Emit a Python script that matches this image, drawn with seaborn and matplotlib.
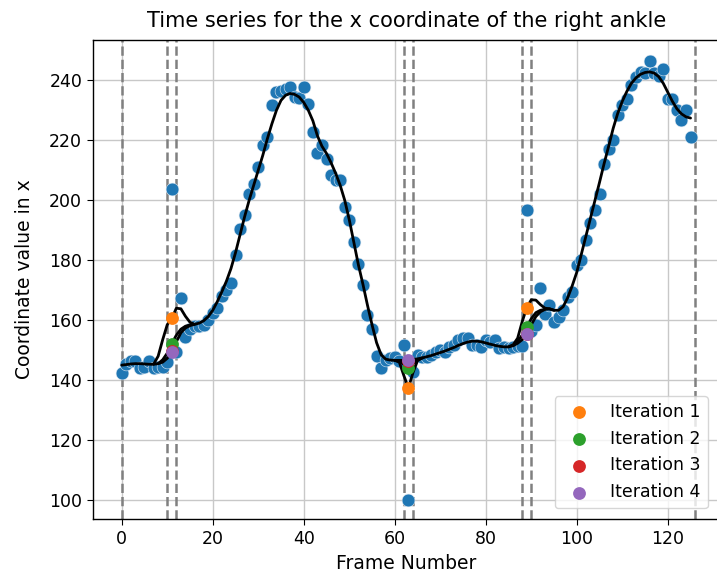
import numpy as np
import pandas as pd
import matplotlib
matplotlib.use("Agg")
import matplotlib.pyplot as plt
import seaborn as sns

# ---------------- data ----------------
frames = list(range(126))
coord_x = [
    142.4, 145.5, 146.5, 146.5, 144.0, 144.5, 146.5, 144.0, 144.5, 144.5,  # 0-9
    146.0, 203.7, 149.5, 167.3, 154.5, 157.0, 158.0, 158.0, 158.5, 160.0,  # 10-19
    162.5, 164.0, 168.0, 170.0, 172.5, 181.7, 190.5, 195.0, 202.0, 205.5,  # 20-29
    211.0, 218.3, 221.0, 231.7, 236.0, 236.5, 237.0, 237.8, 234.5, 234.0,  # 30-39
    237.8, 232.2, 222.8, 215.6, 218.3, 213.9, 208.3, 206.7, 206.7, 197.8,  # 40-49
    193.3, 186.1, 178.9, 171.7, 161.7, 157.2, 148.0, 143.9, 146.7, 147.5,  # 50-59
    147.8, 146.5, 151.7, 100.0, 142.8, 148.3, 147.8, 147.8, 148.3, 149.4,  # 60-69
    150.0, 149.4, 151.1, 151.7, 153.3, 153.9, 153.9, 151.7, 151.7, 151.1,  # 70-79
    153.3, 152.8, 153.3, 150.6, 151.1, 150.6, 151.1, 151.3, 151.5, 196.7,  # 80-89
    156.5, 158.5, 170.6, 162.2, 165.0, 159.4, 161.1, 163.3, 167.8, 169.4,  # 90-99
    178.3, 180.0, 186.7, 192.4, 196.7, 202.0, 212.0, 217.2, 220.2, 228.3,  # 100-109
    231.7, 233.9, 238.3, 241.1, 242.8, 242.5, 246.4, 242.5, 241.5, 243.6,  # 110-119
    233.9, 233.9, 230.0, 226.7, 230.0, 221.1,                              # 120-125
]

smooth_final = [
    145.0, 145.2, 145.4, 145.5, 145.5, 145.4, 145.3, 145.3, 145.5, 146.0,
    147.3, 149.6, 152.8, 155.8, 157.4, 158.2, 158.6, 159.0, 159.8, 161.2,
    163.3, 166.2, 169.5, 173.0, 177.2, 182.5, 188.5, 194.5, 200.0, 205.0,
    210.0, 215.0, 220.5, 225.5, 230.0, 233.3, 235.0, 235.6, 235.3, 234.4,
    232.6, 230.0, 226.5, 221.5, 218.0, 215.6, 212.5, 209.0, 205.0, 200.0,
    193.5, 186.0, 178.5, 172.0, 165.0, 158.5, 152.5, 148.5, 147.0, 146.7,
    146.6, 146.6, 146.6, 146.8, 146.9, 147.1, 147.4, 147.8, 148.2, 148.7,
    149.2, 149.7, 150.3, 150.9, 151.6, 152.2, 152.7, 153.0, 153.0, 152.8,
    152.4, 152.0, 151.6, 151.3, 151.1, 151.1, 151.5, 152.3, 153.5, 155.5,
    158.5, 161.2, 162.8, 163.6, 163.8, 163.3, 163.3, 164.5, 167.5, 171.5,
    176.0, 182.0, 188.0, 194.0, 200.0, 206.0, 212.2, 218.0, 224.0, 229.0,
    233.0, 236.3, 239.0, 240.8, 242.0, 242.6, 242.8, 242.4, 241.2, 239.0,
    236.0, 233.0, 230.5, 228.8, 227.8, 227.4,
]

# smoothed branches of earlier iterations (where they differ from the final fit)
iter1_branch_frames = [list(range(7, 17)), list(range(60, 67)), list(range(85, 96))]
iter1_branch_values = [
    [145.3, 148.0, 153.5, 158.5, 160.6, 164.0, 163.8, 161.3, 159.3, 158.6],
    [146.6, 146.0, 141.5, 137.4, 142.5, 146.5, 147.4],
    [151.1, 151.8, 154.0, 159.5, 164.2, 166.8, 166.7, 165.2, 164.0, 163.8, 163.3],
]
iter2_branch_frames = [list(range(8, 16)), list(range(60, 67)), list(range(86, 94))]
iter2_branch_values = [
    [145.5, 146.8, 149.0, 152.2, 155.0, 157.0, 158.0, 158.4],
    [146.6, 146.3, 145.3, 144.2, 145.5, 146.8, 147.4],
    [151.5, 153.0, 155.0, 157.8, 160.5, 162.5, 163.3, 163.6],
]

outlier_frames = [11, 63, 89]
iteration_labels = ["Iteration 1", "Iteration 2", "Iteration 3", "Iteration 4"]
iteration_values = [
    [160.6, 137.4, 164.2],
    [152.2, 144.2, 157.8],
    [149.6, 146.5, 155.4],
    [149.4, 146.7, 155.5],
]
iteration_colors = ["#ff7f0e", "#2ca02c", "#d62728", "#9467bd"]

boundary_frames = [0, 10, 12, 62, 64, 88, 90, 126]

x_ticks = [0, 20, 40, 60, 80, 100, 120]
y_ticks = [100, 120, 140, 160, 180, 200, 220, 240]

# ---------------- style ----------------
sns.set_style("ticks", {"axes.grid": True, "grid.color": "#c8c8c8",
                        "axes.edgecolor": "black", "xtick.color": "black",
                        "ytick.color": "black", "text.color": "black",
                        "axes.labelcolor": "black"})
plt.rcParams["font.family"] = ["DejaVu Sans"]
plt.rcParams["grid.linewidth"] = 1.0
plt.rcParams["xtick.major.size"] = 4.5
plt.rcParams["ytick.major.size"] = 4.5
plt.rcParams["axes.linewidth"] = 1.0

W, H = 717, 576
fig = plt.figure(figsize=(W / 100, H / 100), dpi=100)
left, right, top, bottom = 93.3, 719.0, 39.5, 519.3
ax = fig.add_axes([left / W, (H - bottom) / H, (right - left) / W, (bottom - top) / H])

for f in boundary_frames:
    ax.axvline(f, color="gray", linestyle="--", linewidth=1.8, zorder=1.5)

df = pd.DataFrame({"frame": frames, "x": coord_x, "smooth": smooth_final})
sns.scatterplot(data=df, x="frame", y="x", color="#1f77b4", s=85, ax=ax,
                zorder=2, linewidth=0.4, edgecolor="#dfe9f3")

for fr, vals in zip(iter1_branch_frames, iter1_branch_values):
    sns.lineplot(x=fr, y=vals, color="black", linewidth=2.0, ax=ax, zorder=3)
for fr, vals in zip(iter2_branch_frames, iter2_branch_values):
    sns.lineplot(x=fr, y=vals, color="black", linewidth=2.0, ax=ax, zorder=3)
sns.lineplot(data=df, x="frame", y="smooth", color="black", linewidth=2.0, ax=ax, zorder=3)

for lab, vals, col in zip(iteration_labels, iteration_values, iteration_colors):
    sns.scatterplot(x=outlier_frames, y=vals, color=col, s=85, ax=ax, zorder=4,
                    linewidth=0, label=lab)

ax.set_xlim(-6.25, 131.25)
ax.set_ylim(93.6, 253.6)
ax.set_xticks(x_ticks)
ax.set_yticks(y_ticks)
ax.tick_params(labelsize=12.5)
ax.set_xlabel("Frame Number", fontsize=13.5)
ax.set_ylabel("Coordinate value in x", fontsize=13.5, labelpad=11)
ax.set_title("Time series for the x coordinate of the right ankle", fontsize=15, pad=9)
ax.legend(loc="lower right", fontsize=12.5, framealpha=0.8, borderaxespad=0.65)

fig.savefig("out.png", dpi=100)
